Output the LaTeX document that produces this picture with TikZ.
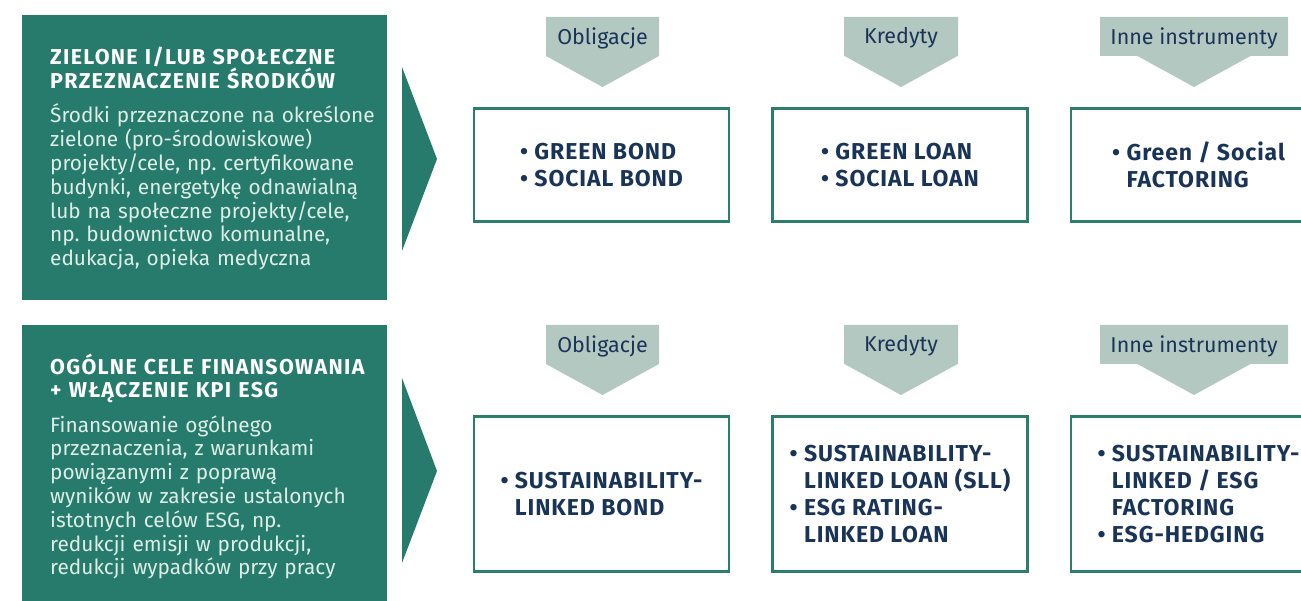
\documentclass[tikz,border=0pt]{standalone}
\usepackage{fontspec}
\setmainfont{Fira Sans}
\newfontfamily\headfont[LetterSpace=6]{Fira Sans}
\newfontfamily\boxfont[LetterSpace=4]{Fira Sans}
\definecolor{esgteal}{HTML}{277B6C}
\definecolor{esgline}{HTML}{2B7D6D}
\definecolor{esgtag}{HTML}{B3C8C0}
\definecolor{esgnavy}{HTML}{1A3457}
\definecolor{esgpale}{HTML}{DDEEE8}
\newcommand{\bul}{\textbullet\ }
\newcommand{\ind}{\phantom{\textbullet\ }}
\frenchspacing
\begin{document}
\begin{tikzpicture}[x=1pt,y=-1pt,
  panel/.style={fill=esgteal,inner sep=0pt,anchor=north west,minimum width=365pt,minimum height=285pt},
  headtxt/.style={text=white,anchor=base west,inner sep=0pt,text width=335pt,align=left,font=\headfont\fontsize{21.5}{22.5}\selectfont\bfseries},
  bodytxt/.style={text=esgpale,anchor=base west,inner sep=0pt,text width=335pt,align=left,font=\fontsize{20.8}{23.8}\selectfont},
  itembox/.style={draw=esgline,line width=2.5pt,fill=white,minimum width=255pt,text=esgnavy,align=left,font=\boxfont\fontsize{23}{27}\selectfont\bfseries},
  tagtxt/.style={text=esgnavy,font=\fontsize{21.5}{24}\selectfont,inner sep=0pt}]
\clip (0,0) rectangle (1301,601);
\fill[white] (0,0) rectangle (1301,601);
% left panels
\node[panel] (pan1) at (22,15) {};
\node[panel,minimum height=280pt] (pan2) at (22,325) {};
\fill[esgteal] (402,67) -- (437,159) -- (402,251) -- cycle;
\fill[esgteal] (402,378) -- (437,471) -- (402,563) -- cycle;
\node[headtxt] (head1) at (50,65) {ZIELONE I/LUB SPOŁECZNE\\PRZEZNACZENIE ŚRODKÓW};
\node[bodytxt] (body1) at (50,123) {Środki przeznaczone na określone\\zielone (pro-środowiskowe)\\projekty/cele, np. certyfikowane\\budynki, energetykę odnawialną\\lub na społeczne projekty/cele,\\np. budownictwo komunalne,\\edukacja, opieka medyczna};
\node[headtxt] (head2) at (50,375) {OGÓLNE CELE FINANSOWANIA\\+ WŁĄCZENIE KPI ESG};
\node[bodytxt] (body2) at (50,432) {Finansowanie ogólnego\\przeznaczenia, z warunkami\\powiązanymi z poprawą\\wyników w zakresie ustalonych\\istotnych celów ESG, np.\\redukcji emisji w produkcji,\\redukcji wypadków przy pracy};
% tags
\foreach \cx/\w/\ty/\lab/\nm in {602.5/113/17/Obligacje/t11, 901/114/17/Kredyty/t12, 1194/188/17/Inne instrumenty/t13,
    602.5/113/325/Obligacje/t21, 901/114/325/Kredyty/t22, 1194/188/325/Inne instrumenty/t23}{
  \fill[esgtag] (\cx-\w/2,\ty) -- (\cx+\w/2,\ty) -- (\cx+\w/2,\ty+39) -- (\cx+56.5,\ty+39)
    -- (\cx,\ty+70) -- (\cx-56.5,\ty+39) -- (\cx-\w/2,\ty+39) -- cycle;
  \node[tagtxt] (\nm) at (\cx,\ty+21) {\lab};
}
% instrument boxes
\node[itembox,minimum height=113pt] (b11) at (601.5,165) {\bul GREEN BOND\\\bul SOCIAL BOND};
\node[itembox,minimum height=113pt] (b12) at (900,165) {\bul GREEN LOAN\\\bul SOCIAL LOAN};
\node[itembox,minimum height=113pt] (b13) at (1198.5,165) {\bul Green / Social\\\ind FACTORING};
\node[itembox,minimum height=155pt] (b21) at (601.5,494) {\bul SUSTAINABILITY-\\\ind LINKED BOND};
\node[itembox,minimum height=155pt] (b22) at (900,494) {\bul SUSTAINABILITY-\\\ind LINKED LOAN (SLL)\\\bul ESG RATING-\\\ind LINKED LOAN};
\node[itembox,minimum height=155pt] (b23) at (1198.5,494) {\bul SUSTAINABILITY-\\\ind LINKED / ESG\\\ind FACTORING\\\bul ESG-HEDGING};
\end{tikzpicture}
\end{document}
